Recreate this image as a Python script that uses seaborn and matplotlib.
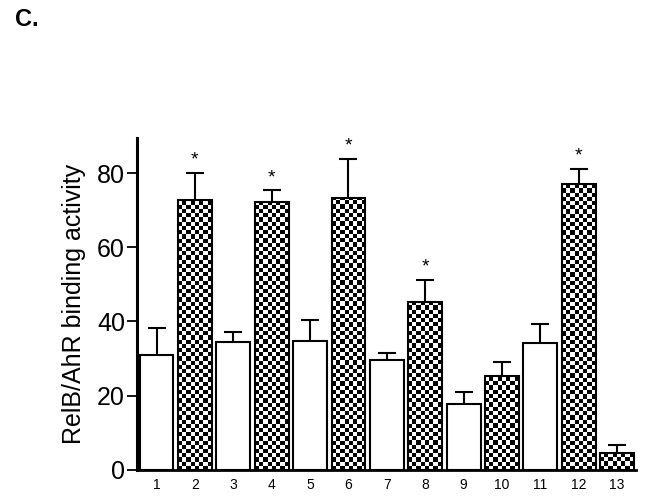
import numpy as np
import pandas as pd
import seaborn as sns
import matplotlib.pyplot as plt

groups = [str(i) for i in range(1, 14)]
activity = [31.0, 72.6, 34.4, 72.3, 34.7, 73.3, 29.5, 45.3, 17.9, 25.4, 34.2, 77.0, 4.6]
err = [7.2, 7.5, 2.8, 3.0, 5.8, 10.4, 1.9, 5.9, 3.0, 3.8, 5.1, 4.0, 2.2]
checkered = [False, True, False, True, False, True, False, True, False, True, False, True, True]
starred = [2, 4, 6, 8, 12]

sns.set_style("ticks")
plt.rcParams['font.family'] = ['Liberation Sans', 'DejaVu Sans']
plt.rcParams['text.color'] = 'black'
plt.rcParams['axes.labelcolor'] = 'black'
plt.rcParams['xtick.color'] = 'black'
plt.rcParams['ytick.color'] = 'black'
plt.rcParams['axes.edgecolor'] = 'black'

df = pd.DataFrame({"group": groups, "activity": activity})

fig = plt.figure(figsize=(6.48, 5.01), dpi=100)
ax = fig.add_axes([0.212, 0.062, 0.770, 0.663])

sns.barplot(data=df, x="group", y="activity", color="white", edgecolor="black",
            linewidth=1.5, width=0.88, saturation=1, errorbar=None, ax=ax, zorder=3)

ax.set_xlim(-0.5, 12.5)
ax.set_ylim(0, 89.5)

# error bars (lower half hidden behind the white bars)
ax.errorbar(range(len(groups)), activity, yerr=err, fmt="none", ecolor="black",
            elinewidth=1.5, capsize=6.5, capthick=1.5, zorder=2)

# checkerboard fill, clipped to the bar outlines
fig.canvas.draw()
cell_px = 4.2
for patch, chk in zip(ax.patches, checkered):
    if not chk:
        continue
    x0, y0 = patch.get_x(), patch.get_y()
    w, h = patch.get_width(), patch.get_height()
    p0 = ax.transData.transform((x0, y0))
    p1 = ax.transData.transform((x0 + w, y0 + h))
    nx = max(1, int(round((p1[0] - p0[0]) / cell_px)))
    ny = max(1, int(np.ceil((p1[1] - p0[1]) / cell_px)))
    board = (np.add.outer(np.arange(ny), np.arange(nx)) % 2).astype(float)
    img = ax.imshow(board, cmap="gray", vmin=0, vmax=1, interpolation="nearest",
                    extent=(x0, x0 + w, y0, y0 + ny * cell_px * h / (p1[1] - p0[1])),
                    origin="lower", aspect="auto", zorder=3.5)
    img.set_clip_path(patch)
    patch.set_zorder(4)
    patch.set_facecolor("none")

ax.set_xlim(-0.5, 12.5)
ax.set_ylim(0, 89.5)

for g in starred:
    i = g - 1
    ax.text(i, activity[i] + err[i] + 1.2, "*", ha="center", va="bottom", fontsize=14)

ax.set_yticks([0, 20, 40, 60, 80])
ax.tick_params(axis="y", labelsize=18, length=7, width=1.3, pad=2)
ax.tick_params(axis="x", labelsize=10, length=0, pad=6)
ax.set_xlabel("")
ax.set_ylabel("RelB/AhR binding activity", fontsize=18, labelpad=8)
ax.spines["left"].set_linewidth(2.2)
ax.spines["bottom"].set_linewidth(2.0)
sns.despine(ax=ax)

fig.text(0.023, 0.962, "C.", fontsize=17, fontweight="bold", va="center")

fig.savefig("out.png", dpi=100)
